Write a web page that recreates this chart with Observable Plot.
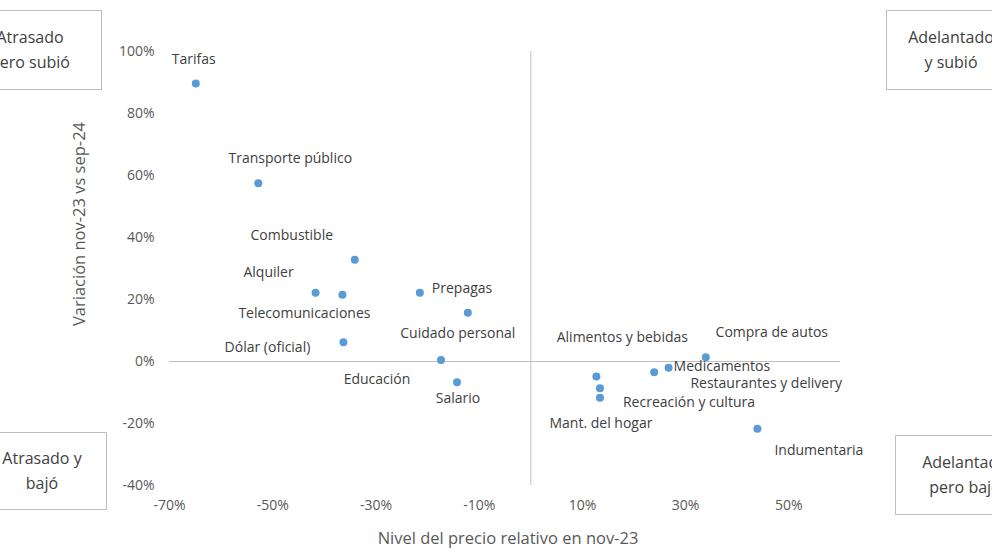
<!DOCTYPE html>
<html>
<head>
<meta charset="utf-8">
<script src="https://cdn.jsdelivr.net/npm/d3@7"></script>
<script src="https://cdn.jsdelivr.net/npm/@observablehq/plot@0.6"></script>
<style>
  html, body { margin: 0; padding: 0; background: #fff; }
  #wrap { position: relative; width: 992px; height: 558px; overflow: hidden; font-family: "Open Sans", sans-serif; }
  .box { position: absolute; box-sizing: border-box; border: 1px solid #bfbfbf; background: #fff;
         display: flex; flex-direction: column; justify-content: center; align-items: center;
         font-size: 16px; line-height: 25px; color: #404040; white-space: nowrap; text-align: center; }
  .ytitle { position: absolute; left: 78px; top: 224px; transform: translate(-50%, -50%) rotate(-90deg);
            font-size: 16.5px; color: #595959; white-space: nowrap; }
</style>
</head>
<body>
<div id="wrap"></div>
<script>
// ---- Data ----
const categories = ["Tarifas", "Transporte público", "Combustible", "Alquiler", "Telecomunicaciones",
  "Prepagas", "Cuidado personal", "Dólar (oficial)", "Educación", "Salario",
  "Alimentos y bebidas", "Mant. del hogar", "Recreación y cultura", "Restaurantes y delivery",
  "Medicamentos", "Compra de autos", "Indumentaria"];
const nivelRelativo = [-64.9, -52.8, -34.1, -41.7, -36.5, -21.5, -12.2, -36.3, -17.4, -14.3,
  12.7, 13.4, 13.4, 23.9, 26.7, 33.9, 43.9];          // % (x)
const variacion = [89.7, 57.5, 32.8, 22.2, 21.5, 22.2, 15.7, 6.2, 0.5, -6.7,
  -4.8, -8.6, -11.7, -3.5, -2.0, 1.4, -21.7];          // % (y)
const xTicks = [-70, -50, -30, -10, 10, 30, 50];
const yTicks = [-40, -20, 0, 20, 40, 60, 80, 100];
const quadrantLabels = ["Atrasado\npero subió", "Adelantado\ny subió", "Atrasado y\nbajó", "Adelantado\npero bajó"];
const xTitle = "Nivel del precio relativo en nov-23";
const yTitle = "Variación nov-23 vs sep-24";

const rows = categories.map((c, i) => ({name: c, x: nivelRelativo[i], y: variacion[i]}));

// ---- Label placement (pixel offsets from point) ----
const labelLayout = {
  "Tarifas": [-2, -24, "middle"],
  "Transporte público": [32, -25, "middle"],
  "Combustible": [-63, -24, "middle"],
  "Alquiler": [-47, -20, "middle"],
  "Telecomunicaciones": [-38, 19, "middle"],
  "Prepagas": [12, -4, "start"],
  "Cuidado personal": [-10, 21, "middle"],
  "Dólar (oficial)": [-76, 5, "middle"],
  "Educación": [-64, 20, "middle"],
  "Salario": [1, 16, "middle"],
  "Alimentos y bebidas": [26, -39, "middle"],
  "Mant. del hogar": [1, 35, "middle"],
  "Recreación y cultura": [23, 5, "start"],
  "Restaurantes y delivery": [112, 11, "middle"],
  "Medicamentos": [5, -1, "start"],
  "Compra de autos": [66, -25, "middle"],
  "Indumentaria": [17, 22, "start"]
};

const labelMarks = rows.map(r => {
  const [dx, dy, anchor] = labelLayout[r.name];
  return Plot.text([r], {x: "x", y: "y", text: "name", dx, dy, textAnchor: anchor,
    fill: "#404040", fontSize: 14});
});

const chart = Plot.plot({
  width: 992,
  height: 558,
  marginLeft: 169,
  marginRight: 152,
  marginTop: 51,
  marginBottom: 73,
  style: {fontFamily: "Open Sans", fontSize: "14px", color: "#595959", background: "#fff"},
  x: {domain: [-70, 60], ticks: xTicks, tickFormat: d => d + "%", tickSize: 0, tickPadding: 15, label: null},
  y: {domain: [-40, 100], ticks: yTicks, tickFormat: d => d + "%", tickSize: 0, tickPadding: 15, label: null},
  marks: [
    Plot.ruleY([0], {stroke: "#bfbfbf", strokeWidth: 1}),
    Plot.ruleX([0], {stroke: "#bfbfbf", strokeWidth: 1}),
    Plot.dot(rows, {x: "x", y: "y", r: 4, fill: "#5b9bd5", stroke: "none"}),
    ...labelMarks,
    Plot.text([xTitle], {frameAnchor: "bottom", dx: 3, dy: 58, fontSize: 16.5, fill: "#595959"})
  ]
});

const wrap = document.getElementById("wrap");
wrap.appendChild(chart);

const yt = document.createElement("div");
yt.className = "ytitle";
yt.textContent = yTitle;
wrap.appendChild(yt);

// ---- Quadrant boxes ----
const boxGeom = [
  {left: -42, top: 10, width: 144, height: 80},
  {left: 886, top: 10, width: 130, height: 80},
  {left: -23, top: 432, width: 130, height: 78},
  {left: 895, top: 435, width: 140, height: 80}
];
quadrantLabels.forEach((t, i) => {
  const d = document.createElement("div");
  d.className = "box";
  const g = boxGeom[i];
  Object.assign(d.style, {left: g.left + "px", top: g.top + "px", width: g.width + "px", height: g.height + "px"});
  t.split("\n").forEach(line => {
    const s = document.createElement("div");
    s.textContent = line;
    d.appendChild(s);
  });
  wrap.appendChild(d);
});
</script>
</body>
</html>
